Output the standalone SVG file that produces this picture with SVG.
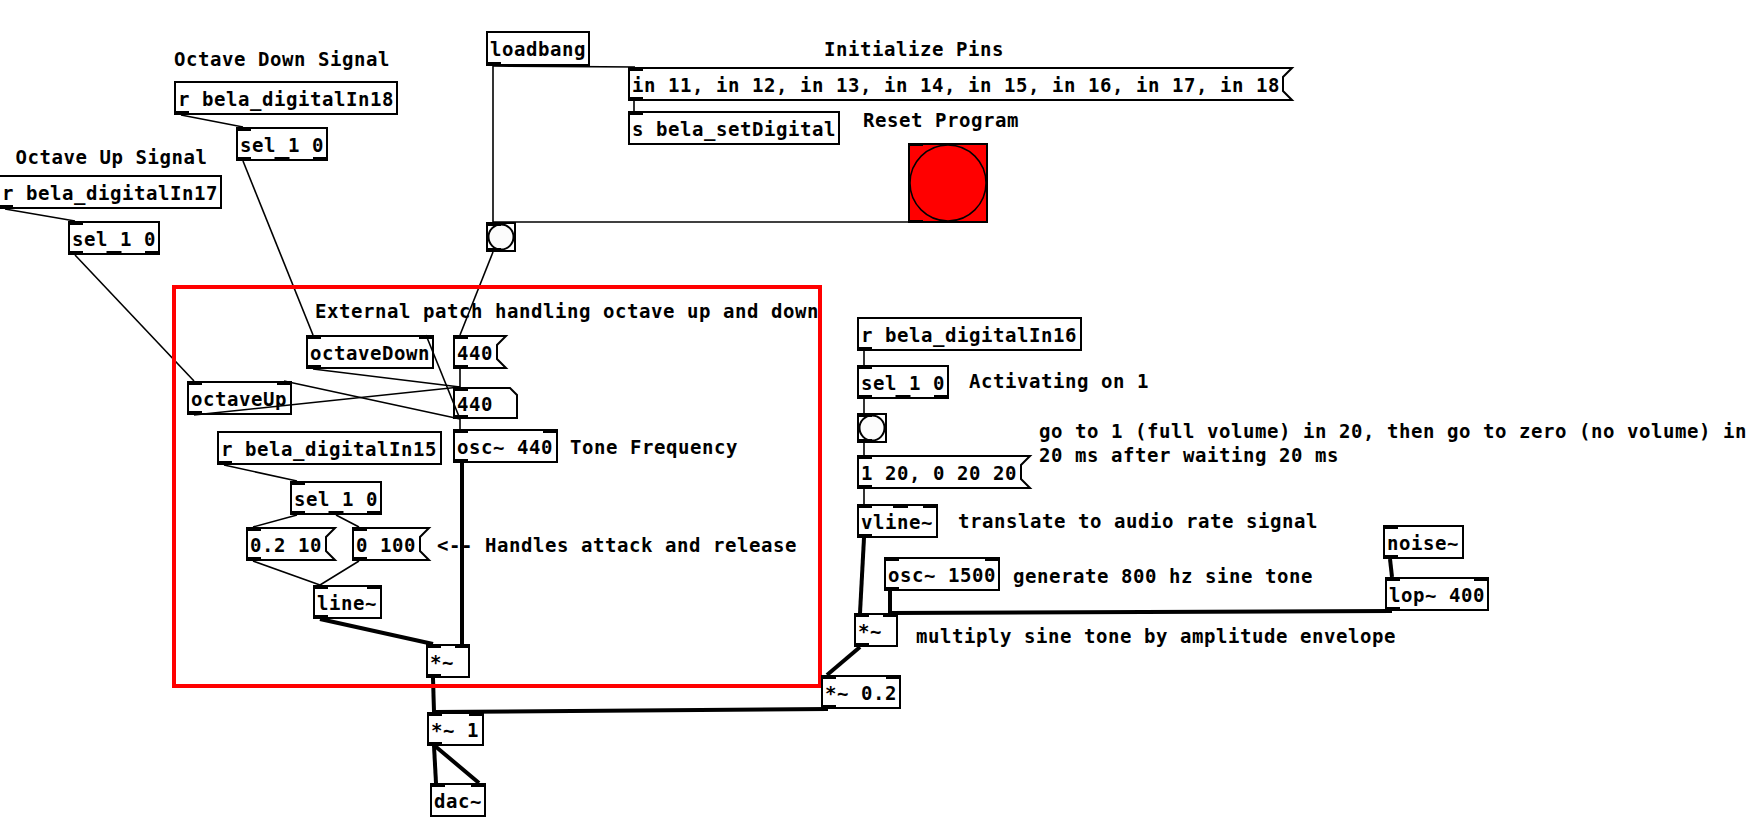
<svg xmlns="http://www.w3.org/2000/svg" width="1747" height="817" viewBox="0 0 1747 817">
<style>
.b{fill:none;stroke:#000;stroke-width:2}
.io{fill:#000}
.t{font-family:"DejaVu Sans Mono","Liberation Mono",monospace;font-weight:bold;font-size:19px;letter-spacing:0.56px;fill:#000}
.c{stroke:#000;stroke-width:1.6;fill:none}
.s{stroke:#000;stroke-width:4;fill:none}
.frame{fill:none;stroke:#ff0000;stroke-width:4}
.bng{fill:#fcfcfc;stroke:#000;stroke-width:2}
</style>
<rect width="1747" height="817" fill="#fff"/>
<g id="connectors">
<line class="c" x1="181" y1="115" x2="243" y2="127"/>
<line class="c" x1="243" y1="161" x2="313" y2="335"/>
<line class="c" x1="5" y1="209" x2="75" y2="221"/>
<line class="c" x1="75" y1="255" x2="194" y2="381"/>
<line class="c" x1="493" y1="66" x2="635" y2="67"/>
<line class="c" x1="493" y1="66" x2="493" y2="222"/>
<line class="c" x1="634" y1="101" x2="634" y2="111"/>
<line class="c" x1="915" y1="222" x2="493" y2="222"/>
<line class="c" x1="493" y1="252" x2="460" y2="335"/>
<line class="c" x1="460" y1="369" x2="460" y2="387"/>
<line class="c" x1="313" y1="369" x2="460" y2="387"/>
<line class="c" x1="194" y1="415" x2="460" y2="387"/>
<line class="c" x1="460" y1="419" x2="426" y2="335"/>
<line class="c" x1="460" y1="419" x2="284" y2="381"/>
<line class="c" x1="460" y1="419" x2="460" y2="429"/>
<line class="c" x1="224" y1="465" x2="297" y2="481"/>
<line class="c" x1="297" y1="515" x2="253" y2="527"/>
<line class="c" x1="336" y1="515" x2="359" y2="527"/>
<line class="c" x1="253" y1="561" x2="320" y2="585"/>
<line class="c" x1="359" y1="561" x2="320" y2="585"/>
<line class="c" x1="864" y1="351" x2="864" y2="365"/>
<line class="c" x1="864" y1="399" x2="864" y2="413"/>
<line class="c" x1="864" y1="443" x2="864" y2="455"/>
<line class="c" x1="864" y1="489" x2="864" y2="504"/>
<line class="s" x1="320" y1="619" x2="433" y2="644"/>
<line class="s" x1="462" y1="463" x2="462" y2="644"/>
<line class="s" x1="433" y1="678" x2="434" y2="712"/>
<line class="s" x1="828" y1="709" x2="434" y2="712"/>
<line class="s" x1="434" y1="746" x2="436" y2="783"/>
<line class="s" x1="435" y1="746" x2="479" y2="783"/>
<line class="s" x1="864" y1="538" x2="860" y2="613"/>
<line class="s" x1="890" y1="591" x2="890" y2="613"/>
<line class="s" x1="1390" y1="559" x2="1392" y2="577"/>
<line class="s" x1="1392" y1="611" x2="890" y2="613"/>
<line class="s" x1="860" y1="647" x2="827" y2="675"/>
</g>
<g id="frame"><rect class="frame" x="174" y="287" width="646" height="399"/></g>
<g id="c_octdown"><text class="t" x="174" y="65.5">Octave Down Signal</text></g>
<g id="r18"><rect class="b" x="175" y="82" width="222" height="32"/><rect class="io" x="174" y="111" width="15" height="4"/><text class="t" x="178" y="106">r bela_digitalIn18</text></g>
<g id="sel_a"><rect class="b" x="237" y="128" width="90" height="32"/><rect class="io" x="236" y="127" width="15" height="4"/><rect class="io" x="236" y="157" width="15" height="4"/><rect class="io" x="274.5" y="157" width="15" height="4"/><rect class="io" x="313" y="157" width="15" height="4"/><text class="t" x="240" y="152">sel 1 0</text></g>
<g id="c_octup"><text class="t" x="15.5" y="164">Octave Up Signal</text></g>
<g id="r17"><rect class="b" x="-1" y="176" width="222" height="32"/><rect class="io" x="-2" y="205" width="15" height="4"/><text class="t" x="2" y="200">r bela_digitalIn17</text></g>
<g id="sel_b"><rect class="b" x="69" y="222" width="90" height="32"/><rect class="io" x="68" y="221" width="15" height="4"/><rect class="io" x="68" y="251" width="15" height="4"/><rect class="io" x="106.5" y="251" width="15" height="4"/><rect class="io" x="145" y="251" width="15" height="4"/><text class="t" x="72" y="246">sel 1 0</text></g>
<g id="loadbang"><rect class="b" x="487" y="32" width="102" height="33"/><rect class="io" x="486" y="62" width="15" height="4"/><text class="t" x="490" y="56">loadbang</text></g>
<g id="c_init"><text class="t" x="824" y="56">Initialize Pins</text></g>
<g id="msg_pins"><path class="b" d="M629 68 H1292 L1283 77 V91 L1292 100 H629 Z"/><rect class="io" x="628" y="67" width="15" height="4"/><rect class="io" x="628" y="97" width="15" height="4"/><text class="t" x="632" y="92">in 11, in 12, in 13, in 14, in 15, in 16, in 17, in 18</text></g>
<g id="s_set"><rect class="b" x="629" y="112" width="210" height="32"/><rect class="io" x="628" y="111" width="15" height="4"/><text class="t" x="632" y="136">s bela_setDigital</text></g>
<g id="c_reset"><text class="t" x="863" y="127">Reset Program</text></g>
<g id="bng_reset"><rect x="909" y="144" width="78" height="78" fill="#ff0000" stroke="#000" stroke-width="2"/><circle cx="948" cy="183" r="38" fill="#ff0000" stroke="#000" stroke-width="1.5"/><rect class="io" x="908" y="143" width="15" height="3"/><rect class="io" x="908" y="220" width="15" height="3"/></g>
<g id="bng_a"><rect class="b" x="487" y="223" width="28" height="28"/><circle class="bng" cx="501" cy="237" r="12.5"/><rect class="io" x="486" y="222" width="15" height="4"/><rect class="io" x="486" y="248" width="15" height="4"/></g>
<g id="c_ext"><text class="t" x="315" y="318">External patch handling octave up and down</text></g>
<g id="octaveDown"><rect class="b" x="307" y="336" width="126" height="32"/><rect class="io" x="306" y="335" width="15" height="4"/><rect class="io" x="419" y="335" width="15" height="4"/><rect class="io" x="306" y="365" width="15" height="4"/><text class="t" x="310" y="360">octaveDown</text></g>
<g id="msg440"><path class="b" d="M454 336 H506 L497 345 V359 L506 368 H454 Z"/><rect class="io" x="453" y="335" width="15" height="4"/><rect class="io" x="453" y="365" width="15" height="4"/><text class="t" x="457" y="360">440</text></g>
<g id="octaveUp"><rect class="b" x="188" y="382" width="103" height="32"/><rect class="io" x="187" y="381" width="15" height="4"/><rect class="io" x="277" y="381" width="15" height="4"/><rect class="io" x="187" y="411" width="15" height="4"/><text class="t" x="191" y="406">octaveUp</text></g>
<g id="atom440"><path class="b" d="M454 388 H510 L517 395 V418 H454 Z"/><rect class="io" x="453" y="387" width="15" height="4"/><rect class="io" x="453" y="415" width="15" height="4"/><text class="t" x="457" y="411">440</text></g>
<g id="osc440"><rect class="b" x="454" y="430" width="103" height="32"/><rect class="io" x="453" y="429" width="15" height="4"/><rect class="io" x="543" y="429" width="15" height="4"/><rect class="io" x="453" y="459" width="15" height="4"/><text class="t" x="457" y="454">osc~ 440</text></g>
<g id="c_tone"><text class="t" x="570" y="454">Tone Frequency</text></g>
<g id="r15"><rect class="b" x="218" y="432" width="223" height="32"/><rect class="io" x="217" y="461" width="15" height="4"/><text class="t" x="221" y="456">r bela_digitalIn15</text></g>
<g id="sel_c"><rect class="b" x="291" y="482" width="90" height="32"/><rect class="io" x="290" y="481" width="15" height="4"/><rect class="io" x="290" y="511" width="15" height="4"/><rect class="io" x="328.5" y="511" width="15" height="4"/><rect class="io" x="367" y="511" width="15" height="4"/><text class="t" x="294" y="506">sel 1 0</text></g>
<g id="msg_attack"><path class="b" d="M247 528 H335 L326 537 V551 L335 560 H247 Z"/><rect class="io" x="246" y="527" width="15" height="4"/><rect class="io" x="246" y="557" width="15" height="4"/><text class="t" x="250" y="552">0.2 10</text></g>
<g id="msg_release"><path class="b" d="M353 528 H429 L420 537 V551 L429 560 H353 Z"/><rect class="io" x="352" y="527" width="15" height="4"/><rect class="io" x="352" y="557" width="15" height="4"/><text class="t" x="356" y="552">0 100</text></g>
<g id="c_handles"><text class="t" x="437" y="552">&lt;-- Handles attack and release</text></g>
<g id="line"><rect class="b" x="314" y="586" width="67" height="32"/><rect class="io" x="313" y="585" width="15" height="4"/><rect class="io" x="367" y="585" width="15" height="4"/><rect class="io" x="313" y="615" width="15" height="4"/><text class="t" x="317" y="610">line~</text></g>
<g id="mul_a"><rect class="b" x="427" y="645" width="42" height="32"/><rect class="io" x="426" y="644" width="15" height="4"/><rect class="io" x="455" y="644" width="15" height="4"/><rect class="io" x="426" y="674" width="15" height="4"/><text class="t" x="430" y="669">*~</text></g>
<g id="mul1"><rect class="b" x="428" y="713" width="55" height="32"/><rect class="io" x="427" y="712" width="15" height="4"/><rect class="io" x="469" y="712" width="15" height="4"/><rect class="io" x="427" y="742" width="15" height="4"/><text class="t" x="431" y="737">*~ 1</text></g>
<g id="dac"><rect class="b" x="431" y="784" width="54" height="32"/><rect class="io" x="430" y="783" width="15" height="4"/><rect class="io" x="471" y="783" width="15" height="4"/><text class="t" x="434" y="808">dac~</text></g>
<g id="mul02"><rect class="b" x="822" y="676" width="78" height="32"/><rect class="io" x="821" y="675" width="15" height="4"/><rect class="io" x="886" y="675" width="15" height="4"/><rect class="io" x="821" y="705" width="15" height="4"/><text class="t" x="825" y="700">*~ 0.2</text></g>
<g id="r16"><rect class="b" x="858" y="318" width="223" height="32"/><rect class="io" x="857" y="347" width="15" height="4"/><text class="t" x="861" y="342">r bela_digitalIn16</text></g>
<g id="sel_d"><rect class="b" x="858" y="366" width="90" height="32"/><rect class="io" x="857" y="365" width="15" height="4"/><rect class="io" x="857" y="395" width="15" height="4"/><rect class="io" x="895.5" y="395" width="15" height="4"/><rect class="io" x="934" y="395" width="15" height="4"/><text class="t" x="861" y="390">sel 1 0</text></g>
<g id="c_act"><text class="t" x="969" y="388">Activating on 1</text></g>
<g id="bng_b"><rect class="b" x="858" y="414" width="28" height="28"/><circle class="bng" cx="872" cy="428" r="12.5"/><rect class="io" x="857" y="413" width="15" height="4"/><rect class="io" x="857" y="439" width="15" height="4"/></g>
<g id="c_goto"><text class="t" x="1039" y="438">go to 1 (full volume) in 20, then go to zero (no volume) in</text><text class="t" x="1039" y="462">20 ms after waiting 20 ms</text></g>
<g id="msg_env"><path class="b" d="M858 456 H1030 L1021 465 V479 L1030 488 H858 Z"/><rect class="io" x="857" y="455" width="15" height="4"/><rect class="io" x="857" y="485" width="15" height="4"/><text class="t" x="861" y="480">1 20, 0 20 20</text></g>
<g id="vline"><rect class="b" x="858" y="505" width="79" height="32"/><rect class="io" x="857" y="504" width="15" height="4"/><rect class="io" x="893" y="504" width="15" height="4"/><rect class="io" x="923" y="504" width="15" height="4"/><rect class="io" x="857" y="534" width="15" height="4"/><text class="t" x="861" y="529">vline~</text></g>
<g id="c_trans"><text class="t" x="958" y="528">translate to audio rate signal</text></g>
<g id="osc1500"><rect class="b" x="885" y="558" width="114" height="32"/><rect class="io" x="884" y="557" width="15" height="4"/><rect class="io" x="985" y="557" width="15" height="4"/><rect class="io" x="884" y="587" width="15" height="4"/><text class="t" x="888" y="582">osc~ 1500</text></g>
<g id="c_gen"><text class="t" x="1013" y="583">generate 800 hz sine tone</text></g>
<g id="noise"><rect class="b" x="1384" y="526" width="79" height="32"/><rect class="io" x="1383" y="525" width="15" height="4"/><rect class="io" x="1383" y="555" width="15" height="4"/><text class="t" x="1387" y="550">noise~</text></g>
<g id="lop"><rect class="b" x="1386" y="578" width="102" height="32"/><rect class="io" x="1385" y="577" width="15" height="4"/><rect class="io" x="1474" y="577" width="15" height="4"/><rect class="io" x="1385" y="607" width="15" height="4"/><text class="t" x="1389" y="602">lop~ 400</text></g>
<g id="mul_b"><rect class="b" x="855" y="614" width="42" height="32"/><rect class="io" x="854" y="613" width="15" height="4"/><rect class="io" x="883" y="613" width="15" height="4"/><rect class="io" x="854" y="643" width="15" height="4"/><text class="t" x="858" y="638">*~</text></g>
<g id="c_mult"><text class="t" x="916" y="643">multiply sine tone by amplitude envelope</text></g>
</svg>
